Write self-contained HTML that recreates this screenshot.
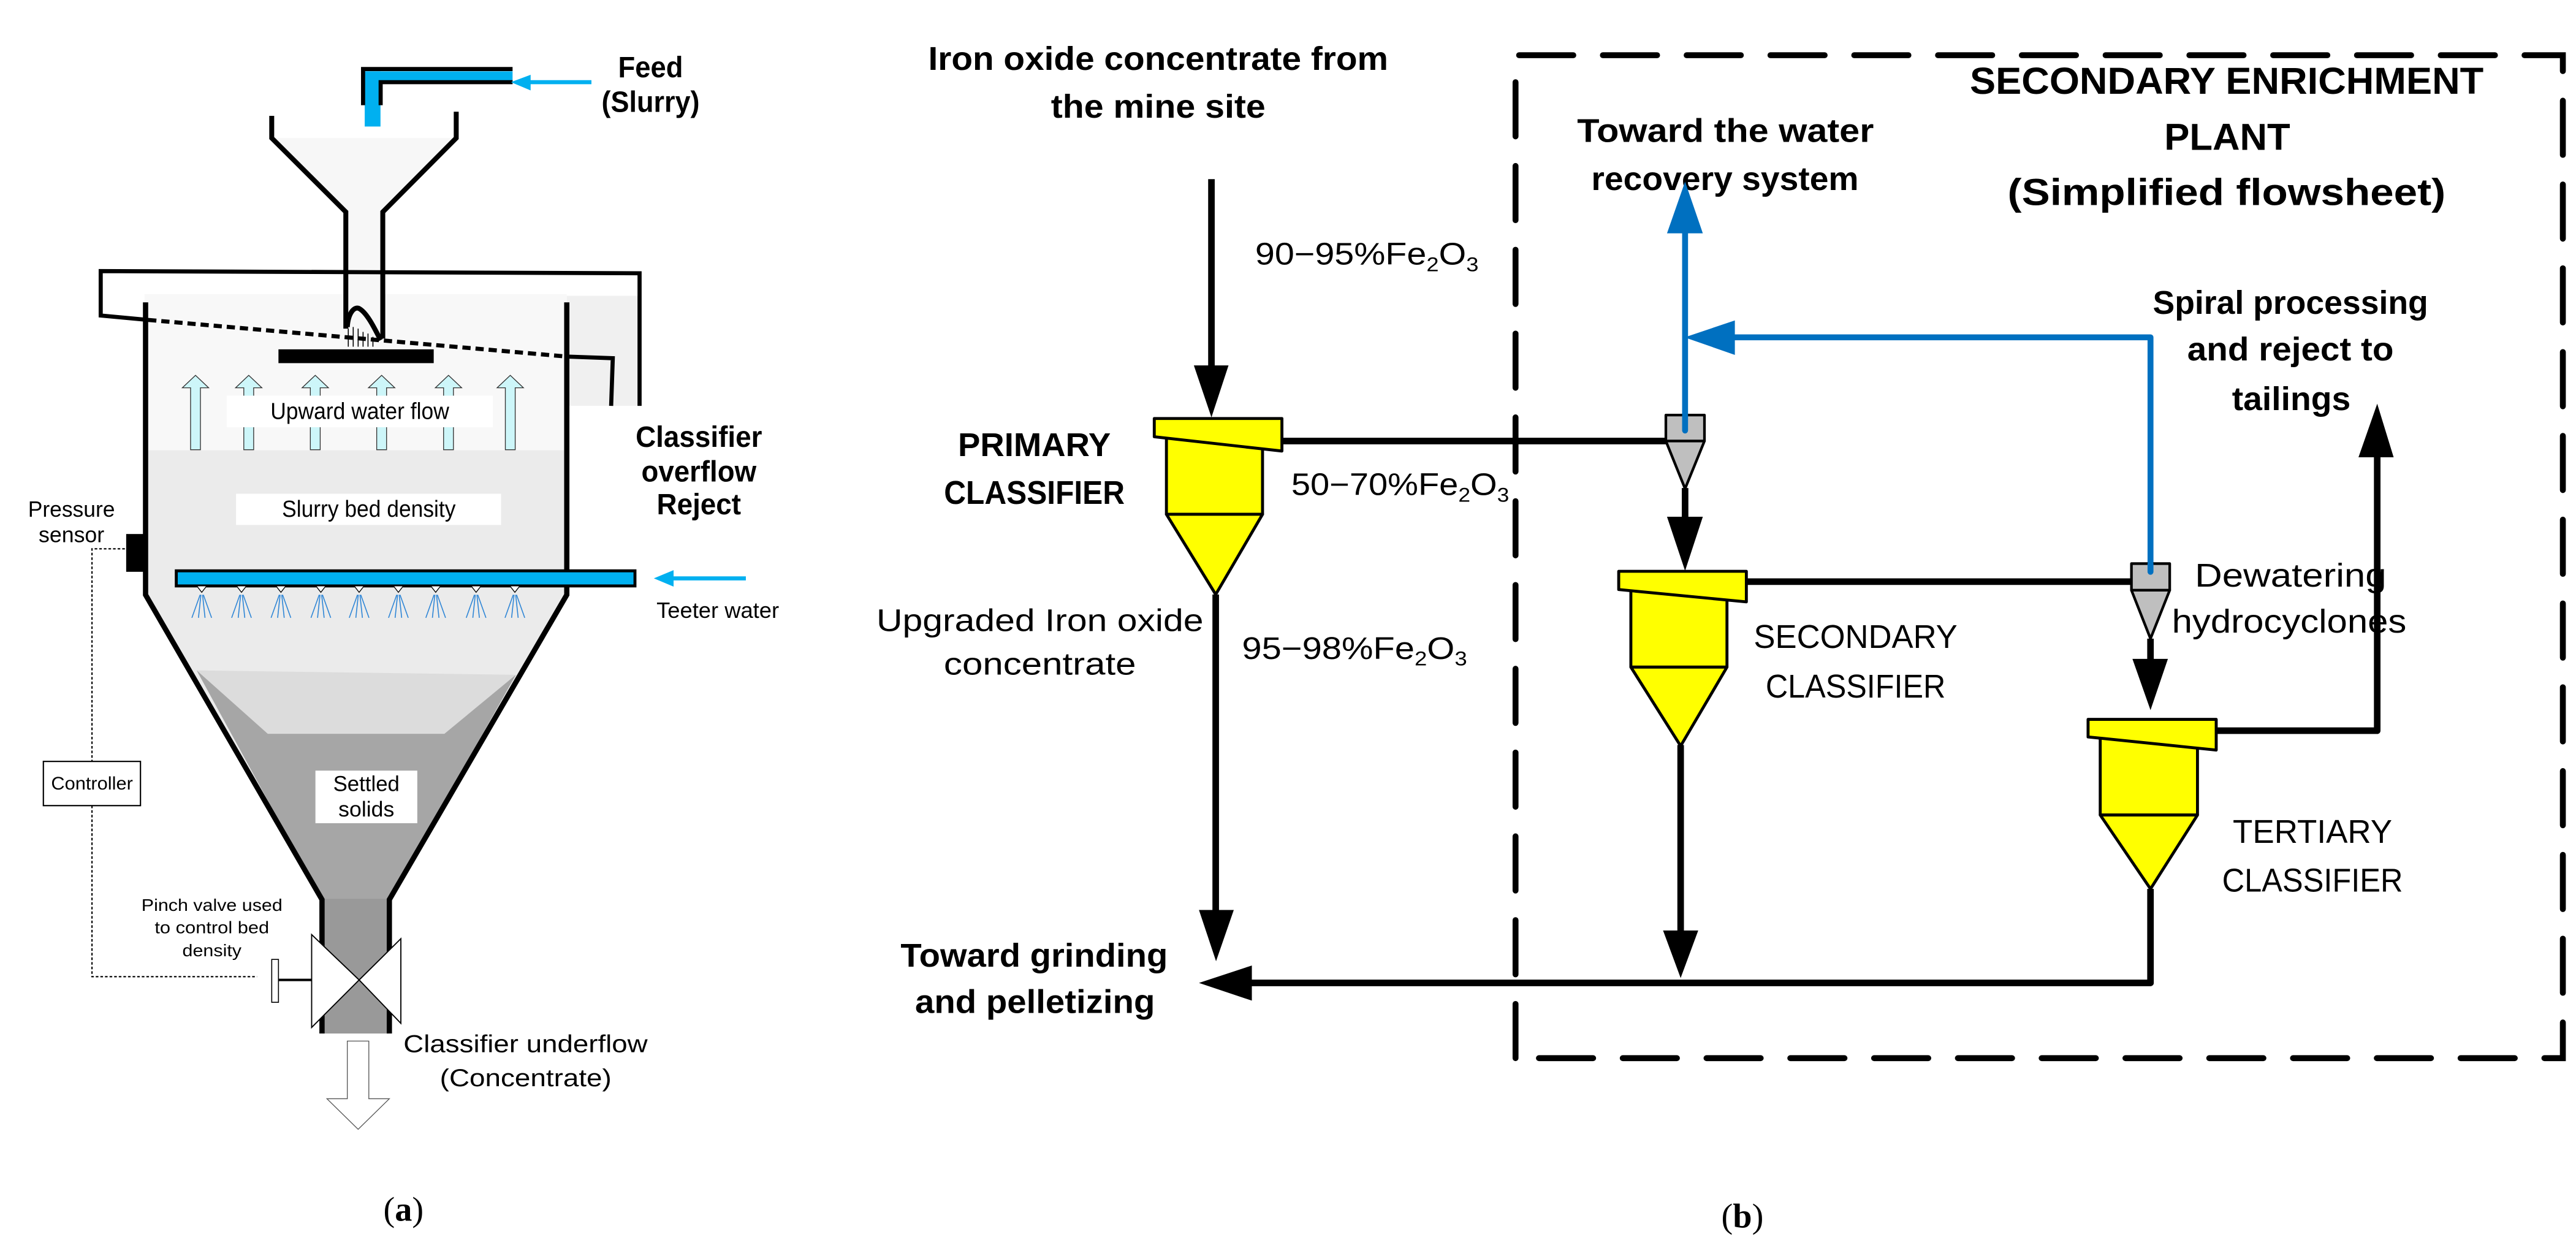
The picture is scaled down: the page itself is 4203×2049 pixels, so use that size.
<!DOCTYPE html>
<html><head><meta charset="utf-8"><style>
html,body{margin:0;padding:0;background:#fff;}
svg{display:block;}
.a{font-family:"Liberation Sans",Arial,sans-serif;}
.b{font-family:"Liberation Sans",Arial,sans-serif;font-weight:bold;}
.s{font-family:"Liberation Serif",serif;}
</style></head><body>
<svg width="4203" height="2049" viewBox="0 0 1568 764.4" xmlns="http://www.w3.org/2000/svg">
<rect width="1568" height="765" fill="#fff"/>
<!-- ========== PANEL A ========== -->
<rect x="88" y="179" width="257" height="95" fill="#f8f8f8"/>
<polygon points="88,274 345,274 345,362 237,547.5 196,547.5 88.6,362" fill="#ebebeb"/>
<polygon points="119.7,408 314,410.7 237,547.5 196,547.5" fill="#dcdcdc"/>
<polygon points="119.7,408 163,446.6 270.5,446.6 314,410.7 237,547.5 196,547.5" fill="#a6a6a6"/>
<rect x="196" y="547" width="41" height="82" fill="#999"/>
<rect x="345" y="180" width="44" height="67" fill="#f0f0f0"/>
<polygon points="165.4,84 277.7,84 233,129 233,206 211,206 210.5,129" fill="#f7f7f7"/>
<rect x="222" y="43.4" width="90" height="6.6" fill="#00b0f0"/>
<rect x="222" y="43.4" width="9.6" height="33.6" fill="#00b0f0"/>
<polyline points="312,42 221,42 221,64" fill="none" stroke="#000" stroke-width="2.5"/>
<polyline points="312,50 231.7,50 231.7,64" fill="none" stroke="#000" stroke-width="2.5"/>
<line x1="360" y1="50" x2="320" y2="50" stroke="#00b0f0" stroke-width="2.5"/>
<polygon points="311,50 323,45.5 323,55" fill="#00b0f0"/>
<text class="b" x="396" y="47" font-size="18" text-anchor="middle" textLength="39.5" lengthAdjust="spacingAndGlyphs">Feed</text>
<text class="b" x="396" y="68" font-size="18" text-anchor="middle" textLength="59.7" lengthAdjust="spacingAndGlyphs">(Slurry)</text>
<polyline points="165.4,70.5 165.4,84 210.5,129 210.5,200" fill="none" stroke="#000" stroke-width="3"/>
<polyline points="277.7,68 277.7,84 233,129 233,206" fill="none" stroke="#000" stroke-width="3"/>
<path d="M211.4,199 C212,190 216,186 219,188 C224,191 229,202 231.7,207" fill="none" stroke="#000" stroke-width="3"/>
<g stroke="#000" stroke-width="0.6">
<line x1="212" y1="200" x2="212" y2="211"/><line x1="215" y1="199" x2="215" y2="211"/><line x1="218" y1="200" x2="218" y2="211"/><line x1="221" y1="202" x2="221" y2="211"/><line x1="224" y1="203" x2="224" y2="211"/><line x1="227" y1="205" x2="227" y2="211"/></g>
<polyline points="90.2,194.7 61.3,192 61.3,165 389.3,166.3 389.3,247" fill="none" stroke="#000" stroke-width="2.5"/>
<polyline points="345,217 373,218 372,247" fill="none" stroke="#000" stroke-width="2.5"/>
<line x1="90.2" y1="194.7" x2="345" y2="217" stroke="#000" stroke-width="2.5" stroke-dasharray="5,3"/>
<polyline points="88.6,184 88.6,362 196,547.5 196,629" fill="none" stroke="#000" stroke-width="3.2"/>
<polyline points="345,184 345,362 237,547.5 237,629" fill="none" stroke="#000" stroke-width="3.2"/>
<rect x="169.5" y="212.6" width="94.5" height="8.4" fill="#000"/>
<g fill="#cdf6f9" stroke="#333" stroke-width="0.5">
<polygon points="116,273.7 116,236 111,236 119,228.4 127,236 122,236 122,273.7"/>
<polygon points="148.4,273.7 148.4,236 143.4,236 151.4,228.4 159.4,236 154.4,236 154.4,273.7"/>
<polygon points="188.9,273.7 188.9,236 183.9,236 191.9,228.4 199.9,236 194.9,236 194.9,273.7"/>
<polygon points="229.3,273.7 229.3,236 224.3,236 232.3,228.4 240.3,236 235.3,236 235.3,273.7"/>
<polygon points="270,273.7 270,236 265,236 273,228.4 281,236 276,236 276,273.7"/>
<polygon points="307.6,273.7 307.6,236 302.6,236 310.6,228.4 318.6,236 313.6,236 313.6,273.7"/>
</g>
<rect x="138" y="240.8" width="162" height="19.2" fill="#fff"/>
<text class="a" x="219" y="255" font-size="14" text-anchor="middle" textLength="108.8" lengthAdjust="spacingAndGlyphs">Upward water flow</text>
<rect x="143.7" y="300.5" width="161.3" height="19" fill="#fff"/>
<text class="a" x="224.5" y="314.5" font-size="14" text-anchor="middle" textLength="105.7" lengthAdjust="spacingAndGlyphs">Slurry bed density</text>
<text class="b" x="425.4" y="272" font-size="18" text-anchor="middle" textLength="77" lengthAdjust="spacingAndGlyphs">Classifier</text>
<text class="b" x="425.4" y="293" font-size="18" text-anchor="middle" textLength="70" lengthAdjust="spacingAndGlyphs">overflow</text>
<text class="b" x="425.4" y="313" font-size="18" text-anchor="middle" textLength="51.3" lengthAdjust="spacingAndGlyphs">Reject</text>
<text class="a" x="43.5" y="314.5" font-size="13.5" text-anchor="middle" textLength="52.9" lengthAdjust="spacingAndGlyphs">Pressure</text>
<text class="a" x="43.5" y="330" font-size="13.5" text-anchor="middle" textLength="40" lengthAdjust="spacingAndGlyphs">sensor</text>
<rect x="76.8" y="325" width="11.5" height="23" fill="#000"/>
<polyline points="76,334 56,334 56,463.4" fill="none" stroke="#000" stroke-width="0.8" stroke-dasharray="1.6,1.2"/>
<polyline points="56,490.3 56,594.4 156.4,594.4" fill="none" stroke="#000" stroke-width="0.8" stroke-dasharray="1.6,1.2"/>
<rect x="26.4" y="463.4" width="59.1" height="26.9" fill="#fff" stroke="#000" stroke-width="0.8"/>
<text class="a" x="56" y="480.5" font-size="11" text-anchor="middle" textLength="49.8" lengthAdjust="spacingAndGlyphs">Controller</text>
<rect x="107.3" y="347.4" width="279.2" height="9.2" fill="#00b0f0" stroke="#000" stroke-width="1.8"/>
<line x1="454" y1="352" x2="408" y2="352" stroke="#00b0f0" stroke-width="2.5"/>
<polygon points="398,352 410,347 410,357" fill="#00b0f0"/>
<text class="a" x="399.6" y="376" font-size="13.5" textLength="74.6" lengthAdjust="spacingAndGlyphs">Teeter water</text>
<g fill="#fff" stroke="#000" stroke-width="0.5">
<polygon points="119.8,356.6 125.8,356.6 122.8,360.5"/><polygon points="144,356.6 150,356.6 147,360.5"/><polygon points="168,356.6 174,356.6 171,360.5"/><polygon points="192.3,356.6 198.3,356.6 195.3,360.5"/><polygon points="215.6,356.6 221.6,356.6 218.6,360.5"/><polygon points="239.5,356.6 245.5,356.6 242.5,360.5"/><polygon points="262.2,356.6 268.2,356.6 265.2,360.5"/><polygon points="286.8,356.6 292.8,356.6 289.8,360.5"/><polygon points="310.4,356.6 316.4,356.6 313.4,360.5"/>
</g>
<g stroke="#2f86d6" stroke-width="0.6" fill="none">
<path transform="translate(122.8,0)" d="M-1,362 L-6,376 M-0.5,362 L-2,376 M0.5,362 L2,376 M1,362 L6,376"/>
<path transform="translate(147,0)" d="M-1,362 L-6,376 M-0.5,362 L-2,376 M0.5,362 L2,376 M1,362 L6,376"/>
<path transform="translate(171,0)" d="M-1,362 L-6,376 M-0.5,362 L-2,376 M0.5,362 L2,376 M1,362 L6,376"/>
<path transform="translate(195.3,0)" d="M-1,362 L-6,376 M-0.5,362 L-2,376 M0.5,362 L2,376 M1,362 L6,376"/>
<path transform="translate(218.6,0)" d="M-1,362 L-6,376 M-0.5,362 L-2,376 M0.5,362 L2,376 M1,362 L6,376"/>
<path transform="translate(242.5,0)" d="M-1,362 L-6,376 M-0.5,362 L-2,376 M0.5,362 L2,376 M1,362 L6,376"/>
<path transform="translate(265.2,0)" d="M-1,362 L-6,376 M-0.5,362 L-2,376 M0.5,362 L2,376 M1,362 L6,376"/>
<path transform="translate(289.8,0)" d="M-1,362 L-6,376 M-0.5,362 L-2,376 M0.5,362 L2,376 M1,362 L6,376"/>
<path transform="translate(313.4,0)" d="M-1,362 L-6,376 M-0.5,362 L-2,376 M0.5,362 L2,376 M1,362 L6,376"/>
</g>
<rect x="192" y="469" width="62" height="32" fill="#fff"/>
<text class="a" x="223" y="481.5" font-size="13" text-anchor="middle" textLength="40.4" lengthAdjust="spacingAndGlyphs">Settled</text>
<text class="a" x="223" y="497" font-size="13" text-anchor="middle" textLength="34" lengthAdjust="spacingAndGlyphs">solids</text>
<polygon points="189.7,568.8 189.7,625.3 218.6,596.4" fill="#fff" stroke="#000" stroke-width="0.7"/>
<polygon points="244,571.3 244,622.8 218.6,596.4" fill="#fff" stroke="#000" stroke-width="0.7"/>
<line x1="189.7" y1="596.4" x2="169.5" y2="596.4" stroke="#000" stroke-width="1.5"/>
<rect x="165.4" y="583.9" width="4.1" height="26.1" fill="#fff" stroke="#000" stroke-width="0.6"/>
<text class="a" x="129" y="554.3" font-size="10.5" text-anchor="middle" textLength="85.8" lengthAdjust="spacingAndGlyphs">Pinch valve used</text>
<text class="a" x="129" y="568" font-size="10.5" text-anchor="middle" textLength="69.7" lengthAdjust="spacingAndGlyphs">to control bed</text>
<text class="a" x="129" y="582" font-size="10.5" text-anchor="middle" textLength="36" lengthAdjust="spacingAndGlyphs">density</text>
<text class="a" x="245.6" y="640.4" font-size="15" textLength="148.6" lengthAdjust="spacingAndGlyphs">Classifier underflow</text>
<text class="a" x="320" y="661" font-size="15" text-anchor="middle" textLength="104.5" lengthAdjust="spacingAndGlyphs">(Concentrate)</text>
<polygon points="211.4,633.6 224.5,633.6 224.5,668.7 237,668.7 218,687.3 199,668.7 211.4,668.7" fill="#fff" stroke="#555" stroke-width="0.5"/>
<text class="s" x="245.6" y="743" font-size="21" text-anchor="middle">(<tspan font-weight="bold">a</tspan>)</text>

<!-- ========== PANEL B ========== -->
<path d="M922.5,644 L922.5,35 Q922.5,33.6 924,33.6 L1560,33.6 L1560,644 L922.5,644" fill="none" stroke="#000" stroke-width="3.6" stroke-dasharray="33,18" stroke-linecap="round"/>
<text class="b" x="705" y="42.6" font-size="20" text-anchor="middle" textLength="280" lengthAdjust="spacingAndGlyphs">Iron oxide concentrate from</text>
<text class="b" x="705" y="71.6" font-size="20" text-anchor="middle" textLength="130.6" lengthAdjust="spacingAndGlyphs">the mine site</text>
<text class="a" x="764" y="161" font-size="19" textLength="136" lengthAdjust="spacingAndGlyphs">90−95%Fe<tspan font-size="12" dy="4">2</tspan><tspan dy="-4">O</tspan><tspan font-size="12" dy="4">3</tspan></text>
<text class="b" x="629.6" y="277.6" font-size="20" text-anchor="middle" textLength="93" lengthAdjust="spacingAndGlyphs">PRIMARY</text>
<text class="b" x="629.6" y="306.6" font-size="20" text-anchor="middle" textLength="110" lengthAdjust="spacingAndGlyphs">CLASSIFIER</text>
<text class="a" x="786" y="301.3" font-size="19" textLength="132.6" lengthAdjust="spacingAndGlyphs">50−70%Fe<tspan font-size="12" dy="4">2</tspan><tspan dy="-4">O</tspan><tspan font-size="12" dy="4">3</tspan></text>
<text class="a" x="633" y="384" font-size="19" text-anchor="middle" textLength="199" lengthAdjust="spacingAndGlyphs">Upgraded Iron oxide</text>
<text class="a" x="633" y="410.6" font-size="19" text-anchor="middle" textLength="117" lengthAdjust="spacingAndGlyphs">concentrate</text>
<text class="a" x="756" y="401" font-size="19" textLength="137" lengthAdjust="spacingAndGlyphs">95−98%Fe<tspan font-size="12" dy="4">2</tspan><tspan dy="-4">O</tspan><tspan font-size="12" dy="4">3</tspan></text>
<text class="b" x="629.5" y="588.4" font-size="20" text-anchor="middle" textLength="162.6" lengthAdjust="spacingAndGlyphs">Toward grinding</text>
<text class="b" x="630" y="616.5" font-size="20" text-anchor="middle" textLength="146" lengthAdjust="spacingAndGlyphs">and pelletizing</text>
<text class="b" x="1050.3" y="86.3" font-size="20" text-anchor="middle" textLength="180.6" lengthAdjust="spacingAndGlyphs">Toward the water</text>
<text class="b" x="1050" y="115.6" font-size="20" text-anchor="middle" textLength="162.7" lengthAdjust="spacingAndGlyphs">recovery system</text>
<text class="b" x="1355.4" y="57" font-size="23" text-anchor="middle" textLength="312.7" lengthAdjust="spacingAndGlyphs">SECONDARY ENRICHMENT</text>
<text class="b" x="1355.7" y="91.3" font-size="23" text-anchor="middle">PLANT</text>
<text class="b" x="1355.3" y="124.8" font-size="23" text-anchor="middle" textLength="266.6" lengthAdjust="spacingAndGlyphs">(Simplified flowsheet)</text>
<text class="b" x="1394.2" y="191" font-size="20" text-anchor="middle" textLength="167.6" lengthAdjust="spacingAndGlyphs">Spiral processing</text>
<text class="b" x="1394.2" y="219.4" font-size="20" text-anchor="middle" textLength="125.6" lengthAdjust="spacingAndGlyphs">and reject to</text>
<text class="b" x="1394.7" y="249.6" font-size="20" text-anchor="middle" textLength="72.2" lengthAdjust="spacingAndGlyphs">tailings</text>
<text class="a" x="1336" y="357" font-size="20" textLength="116.6" lengthAdjust="spacingAndGlyphs">Dewatering</text>
<text class="a" x="1322" y="385" font-size="20" textLength="142.8" lengthAdjust="spacingAndGlyphs">hydrocyclones</text>
<text class="a" x="1129.5" y="394.3" font-size="20" text-anchor="middle" textLength="124" lengthAdjust="spacingAndGlyphs">SECONDARY</text>
<text class="a" x="1129.5" y="424.5" font-size="20" text-anchor="middle" textLength="109.5" lengthAdjust="spacingAndGlyphs">CLASSIFIER</text>
<text class="a" x="1407.6" y="513" font-size="20" text-anchor="middle" textLength="97" lengthAdjust="spacingAndGlyphs">TERTIARY</text>
<text class="a" x="1407.6" y="542.6" font-size="20" text-anchor="middle" textLength="110" lengthAdjust="spacingAndGlyphs">CLASSIFIER</text>
<text class="s" x="1060.6" y="747" font-size="21" text-anchor="middle">(<tspan font-weight="bold">b</tspan>)</text>

<g stroke="#000" stroke-width="4" fill="none" stroke-linejoin="round">
<line x1="737.4" y1="109" x2="737.4" y2="224"/>
<line x1="780" y1="268.4" x2="1015" y2="268.4"/>
<line x1="740" y1="361.8" x2="740" y2="556"/>
<line x1="1025.7" y1="297" x2="1025.7" y2="316"/>
<line x1="1063" y1="354" x2="1297.4" y2="354"/>
<line x1="1309" y1="388.7" x2="1309" y2="403"/>
<polyline points="1339.4,444.7 1447,444.7 1447,276"/>
<line x1="1023" y1="453.4" x2="1023" y2="568"/>
<polyline points="1309,541 1309,598.2 760,598.2"/>
</g>
<g fill="#000">
<polygon points="726.7,222.4 747.8,222.4 737.4,254"/>
<polygon points="729.8,553.8 751,553.8 740.2,585"/>
<polygon points="1014.7,314.5 1036.5,314.5 1025.7,347.4"/>
<polygon points="1298,401 1319.6,401 1309,432.2"/>
<polygon points="1435.6,278.3 1457,278.3 1447,245.7"/>
<polygon points="1012.3,566.3 1033.7,566.3 1023,595.2"/>
<polygon points="729.8,598.2 762,587.6 762,609"/>
</g>
<g stroke="#0070c0" stroke-width="3.6" fill="none" stroke-linejoin="round">
<line x1="1025.7" y1="262" x2="1025.7" y2="140"/>
<polyline points="1054,205.3 1309,205.3 1309,348"/>
</g>
<g fill="#0070c0">
<polygon points="1014.7,142 1036.5,142 1025.7,110.5"/>
<polygon points="1025.4,205.3 1056,195 1056,216"/>
</g>
<g fill="#ffff00" stroke="#000" stroke-width="1.8" stroke-linejoin="round">
<rect x="710" y="266" width="58.5" height="47"/>
<polygon points="710,313 768.5,313 740,361.8"/>
<polygon points="702.6,254.7 780.3,254.7 780.3,274.5 702.6,265.8"/>
<rect x="992.7" y="359" width="58.5" height="47"/>
<polygon points="992.7,406 1051.2,406 1023,454"/>
<polygon points="985.3,347.7 1063,347.7 1063,366.3 985.3,358.8"/>
<rect x="1278.4" y="449" width="59.2" height="47"/>
<polygon points="1278.4,496 1337.6,496 1309,541"/>
<polygon points="1271,437.8 1349,437.8 1349,456.5 1271,448.5"/>
</g>
<g fill="#bfbfbf" stroke="#000" stroke-width="1.6" stroke-linejoin="round">
<rect x="1014" y="252.6" width="23.5" height="15.8"/>
<polygon points="1014,268.4 1037.5,268.4 1025.7,297.4"/>
<rect x="1297.4" y="343" width="23.3" height="16.2"/>
<polygon points="1297.4,359.2 1320.7,359.2 1309,388.7"/>
</g>
<line x1="1025.7" y1="262" x2="1025.7" y2="252" stroke="#0070c0" stroke-width="3.6" stroke-linecap="round"/>
<line x1="1309" y1="348" x2="1309" y2="343" stroke="#0070c0" stroke-width="3.6" stroke-linecap="round"/>
</svg>
</body></html>
